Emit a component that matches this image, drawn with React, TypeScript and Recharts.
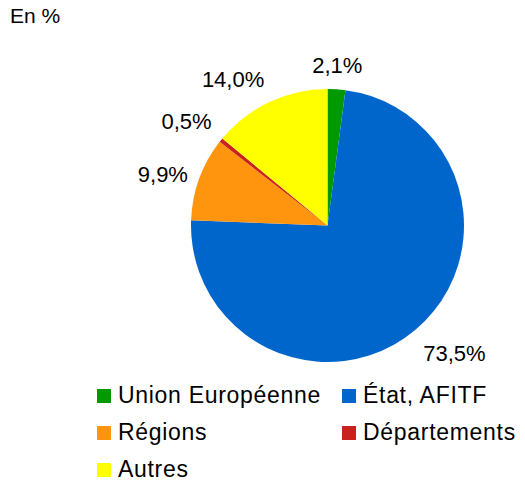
import React from 'react';
import { PieChart, Pie, Cell, Legend } from 'recharts';

const categories = ['Union Européenne', 'État, AFITF', 'Régions', 'Départements', 'Autres'];
const values = [2.1, 73.5, 9.9, 0.5, 14.0];
const colors = ['#009900', '#0066cc', '#ff950e', '#c9211e', '#ffff00'];

const data = categories.map((name, i) => ({ name, value: values[i] }));

const RAD = Math.PI / 180;
const FONT = '"Liberation Sans", Arial, sans-serif';

const renderLabel = (props: any) => {
  const { cx, cy, outerRadius, midAngle, value } = props;
  const dx = Math.cos(-midAngle * RAD);
  const dy = Math.sin(-midAngle * RAD);
  const r = outerRadius + 12;
  const x = cx + dx * r;
  const y = cy + dy * r;
  const anchor = dx > 0.3 ? 'start' : dx < -0.3 ? 'end' : 'middle';
  const ty = dy < -0.4 ? y - 4 : dy > 0.4 ? y + 22 : y + 7;
  return (
    <text x={x} y={ty} textAnchor={anchor} fontSize={22} fontFamily={FONT} fill="#000">
      {value.toFixed(1).replace('.', ',') + '%'}
    </text>
  );
};

// legend drawn in page coordinates, two columns
const LegendContent = () => {
  const cols = [97, 342];
  return (
    <svg width={525} height={120} style={{ display: 'block', overflow: 'visible' }}>
      {categories.map((name, i) => {
        const x = cols[i % 2];
        const base = 29 + Math.floor(i / 2) * 37;
        return (
          <g key={name}>
            <rect x={x} y={base - 14} width={14} height={14} fill={colors[i]} />
            <text x={x + 21} y={base} fontFamily={FONT} fontSize={23} letterSpacing={0.7} fill="#000">
              {name}
            </text>
          </g>
        );
      })}
    </svg>
  );
};

export default function App() {
  return (
    <div style={{ position: 'absolute', left: 0, top: 0, width: 525, height: 484, background: '#fff' }}>
      <svg width={525} height={40} style={{ position: 'absolute', left: 0, top: 0 }}>
        <text x={10} y={23} fontFamily={FONT} fontSize={21} fill="#000">En %</text>
      </svg>
      <PieChart width={525} height={484} margin={{ top: 0, right: 0, bottom: 0, left: 0 }}>
        <Pie
          data={data}
          dataKey="value"
          nameKey="name"
          cx={327.5}
          cy={225.5}
          outerRadius={136.5}
          startAngle={90}
          endAngle={-270}
          stroke="none"
          label={renderLabel}
          labelLine={false}
          isAnimationActive={false}
        >
          {data.map((d, i) => (
            <Cell key={d.name} fill={colors[i]} />
          ))}
        </Pie>
        <Legend
          content={<LegendContent />}
          wrapperStyle={{ position: 'absolute', left: 0, top: 374, width: 525, height: 110 }}
        />
      </PieChart>
    </div>
  );
}
